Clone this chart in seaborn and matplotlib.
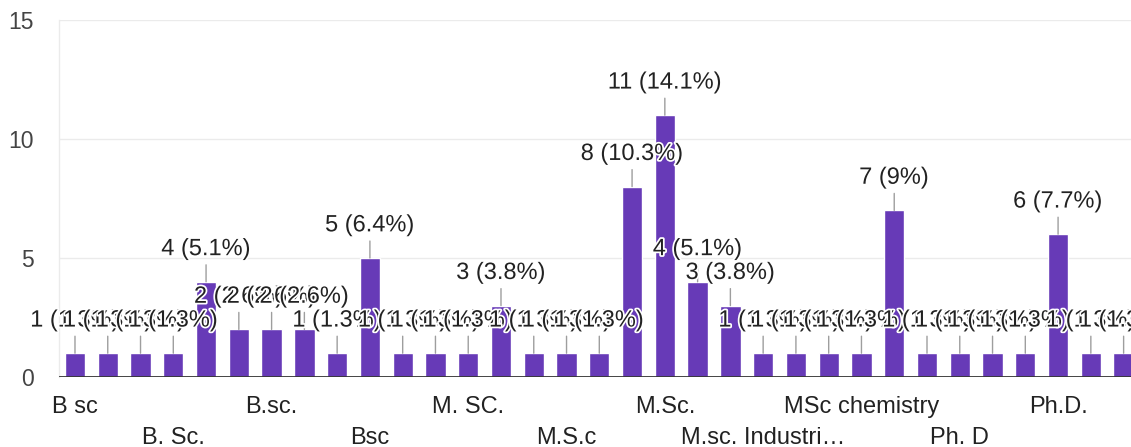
import numpy as np
import matplotlib
matplotlib.use("Agg")
import matplotlib.pyplot as plt
import matplotlib.patheffects as pe
import seaborn as sns
import pandas as pd

# Responses per answer (33 answers, only every third label is shown in the chart)
labels = ["B sc", "", "", "B. Sc.", "", "", "B.sc.", "", "", "Bsc", "",
          "", "M. SC.", "", "", "M.S.c", "", "", "M.Sc.", "", "", "M.sc. Industri…",
          "", "", "MSc chemistry", "", "", "Ph. D", "", "", "Ph.D.", "", ""]
counts = [1, 1, 1, 1, 4, 2, 2, 2, 1, 5, 1,
          1, 1, 3, 1, 1, 1, 8, 11, 4, 3, 1,
          1, 1, 1, 7, 1, 1, 1, 1, 6, 1, 1]
yticks = [0, 5, 10, 15]

BAR = "#673ab7"


def fmt_label(n, total):
    p = f"{100 * n / total:.1f}".rstrip("0").rstrip(".")
    return f"{n} ({p}%)"


def main():
    sns.set_theme(style="white")
    plt.rcParams["font.family"] = ["Liberation Sans", "DejaVu Sans"]

    df = pd.DataFrame({"pos": np.arange(len(counts)), "count": counts})
    total = sum(counts)

    fig = plt.figure(figsize=(11.31, 4.47), dpi=100)
    ax = fig.add_axes([58.6 / 1131, 70 / 447, (1140 - 58.6) / 1131, 357 / 447])

    sns.barplot(data=df, x="pos", y="count", color=BAR, saturation=1,
                width=0.62, ax=ax, zorder=2)

    # grid and axes look
    ax.set_ylim(0, 15)
    ax.set_yticks(yticks)
    for v in yticks[1:]:
        ax.axhline(v, color="#ebebeb", lw=1, zorder=0)
    ax.axhline(0, color="#333333", lw=2, zorder=3)
    for s in ["top", "right", "bottom"]:
        ax.spines[s].set_visible(False)
    ax.spines["left"].set_color("#ebebeb")
    ax.spines["left"].set_linewidth(1)
    ax.tick_params(axis="y", length=0, pad=18, labelsize=16.5, labelcolor="#444444")

    # x labels on two alternating rows
    shown = [i for i, l in enumerate(labels) if l]
    row1 = shown[0::2]
    row2 = shown[1::2]
    ax.set_xticks(row1)
    ax.set_xticklabels([labels[i] for i in row1])
    ax.set_xticks(row2, minor=True)
    ax.set_xticklabels([labels[i] for i in row2], minor=True)
    ax.tick_params(axis="x", which="major", length=0, pad=14, labelsize=17, labelcolor="#222222")
    ax.tick_params(axis="x", which="minor", length=0, pad=36, labelsize=17, labelcolor="#222222")
    ax.set_xlabel("")
    ax.set_ylabel("")

    # value annotations with leader lines
    halo = [pe.withStroke(linewidth=2.5, foreground="white")]
    for i, n in enumerate(counts):
        ax.annotate(fmt_label(n, total), xy=(i, n), xytext=(0, 23.5),
                    textcoords="offset points", ha="center", va="center",
                    fontsize=17, color="#222222", zorder=5, path_effects=halo,
                    annotation_clip=False,
                    arrowprops=dict(arrowstyle="-", color="#9e9e9e", lw=1,
                                    shrinkA=1, shrinkB=0))

    fig.savefig("out.png", dpi=100)


if __name__ == "__main__":
    main()
